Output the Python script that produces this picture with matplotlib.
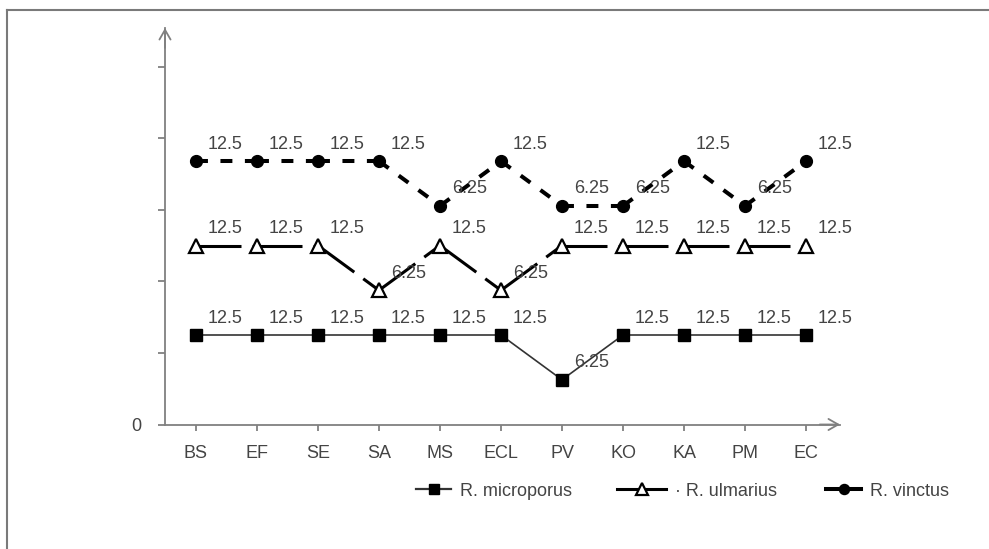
import matplotlib
matplotlib.use("Agg")
import matplotlib.pyplot as plt
from matplotlib.lines import Line2D

plt.rcParams['font.family'] = ['Liberation Sans', 'DejaVu Sans']
plt.rcParams['lines.scale_dashes'] = False

categories = ['BS', 'EF', 'SE', 'SA', 'MS', 'ECL', 'PV', 'KO', 'KA', 'PM', 'EC']
microporus = [12.5, 12.5, 12.5, 12.5, 12.5, 12.5, 6.25, 12.5, 12.5, 12.5, 12.5]
ulmarius = [12.5, 12.5, 12.5, 6.25, 12.5, 6.25, 12.5, 12.5, 12.5, 12.5, 12.5]
vinctus = [12.5, 12.5, 12.5, 12.5, 6.25, 12.5, 6.25, 6.25, 12.5, 6.25, 12.5]
series_names = ['R. microporus', '· R. ulmarius', 'R. vinctus']
y_tick_values = [0, 10, 20, 30, 40, 50]
y_tick_labels = ['0', '', '', '', '', '']

# display offsets (layout) for each series so they don't overlap
offsets = [0.0, 12.5, 24.3]

W, H = 989, 549
fig = plt.figure(figsize=(W / 100, H / 100), dpi=100)
ax = fig.add_axes([165 / W, (H - 424.5) / H, (840 - 165) / W, (424.5 - 28) / H])
ax.set_xlim(-0.508, 10.557)
ax.set_ylim(0, 55.4)

gray = '#808080'
txtc = '#444444'
FS = 13

for s in ['top', 'right']:
    ax.spines[s].set_visible(False)
for s in ['left', 'bottom']:
    ax.spines[s].set_color(gray)
    ax.spines[s].set_linewidth(1.3)

ax.set_xticks(range(len(categories)))
ax.set_xticklabels(categories)
ax.set_yticks(y_tick_values)
ax.set_yticklabels(y_tick_labels)
ax.tick_params(axis='x', direction='out', length=4, width=1.3, color=gray,
               labelcolor=txtc, labelsize=FS, pad=11)
ax.tick_params(axis='y', direction='out', length=5, width=1.3, color=gray,
               labelcolor=txtc, labelsize=FS, pad=12)

# axis arrows
ap = dict(arrowstyle='->,head_length=0.7,head_width=0.4', color=gray, lw=1.3,
          shrinkA=0, shrinkB=0)
ax.annotate('', xy=(1.0, 0), xytext=(0.97, 0), xycoords='axes fraction', arrowprops=ap,
            annotation_clip=False)
ax.annotate('', xy=(0, 1.0), xytext=(0, 0.95), xycoords='axes fraction', arrowprops=ap,
            annotation_clip=False)

styles = [
    dict(color='#333333', lw=1.2, dashes=None, marker='s', ms=8, mfc='black', mec='black', mew=1),
    dict(color='black', lw=2.2, dashes=(32.4, 8.0), marker='^', ms=9.5, mfc='white', mec='black', mew=1.6),
    dict(color='black', lw=2.9, dashes=(8.6, 9.0), marker='o', ms=8.5, mfc='black', mec='black', mew=1),
]

x = list(range(len(categories)))
for data, off, st in zip([microporus, ulmarius, vinctus], offsets, styles):
    yy = [v + off for v in data]
    for i in range(len(x) - 1):
        ln, = ax.plot(x[i:i + 2], yy[i:i + 2], color=st['color'], lw=st['lw'],
                      solid_capstyle='butt', dash_capstyle='butt', zorder=2)
        if st['dashes'] is not None:
            ln.set_dashes(st['dashes'])
    ax.plot(x, yy, ls='none', marker=st['marker'], ms=st['ms'], mfc=st['mfc'],
            mec=st['mec'], mew=st['mew'], zorder=3, clip_on=False)
    for xi, v, yv in zip(x, data, yy):
        ax.annotate(f'{v:g}', xy=(xi, yv), xytext=(12, 17), textcoords='offset pixels',
                    ha='left', va='center', fontsize=FS, color=txtc, zorder=4)

# legends
fsp = FS * 100 / 72
leg_specs = [(416, 35), (617, 49), (826, 35)]
for (x0, hl), name, st in zip(leg_specs, series_names, styles):
    h = Line2D([], [], color=st['color'], lw=st['lw'] if st['lw'] > 2 else 1.6,
               marker=st['marker'], ms=st['ms'] * 0.85, mfc=st['mfc'], mec=st['mec'], mew=st['mew'])
    fig.legend(handles=[h], labels=[name], loc='center left',
               bbox_to_anchor=(x0 / W, 1 - 491 / H), frameon=False, borderpad=0,
               borderaxespad=0, handlelength=hl / fsp, handletextpad=9 / fsp,
               prop={'size': FS}, labelcolor=txtc)

# outer frame lines (top and left)
fig.add_artist(Line2D([7 / W, 1], [1 - 10 / H, 1 - 10 / H], transform=fig.transFigure,
                      color='#7a7a7a', lw=1.5))
fig.add_artist(Line2D([7 / W, 7 / W], [0, 1 - 10 / H], transform=fig.transFigure,
                      color='#7a7a7a', lw=1.5))

fig.savefig('out.png', dpi=100)
